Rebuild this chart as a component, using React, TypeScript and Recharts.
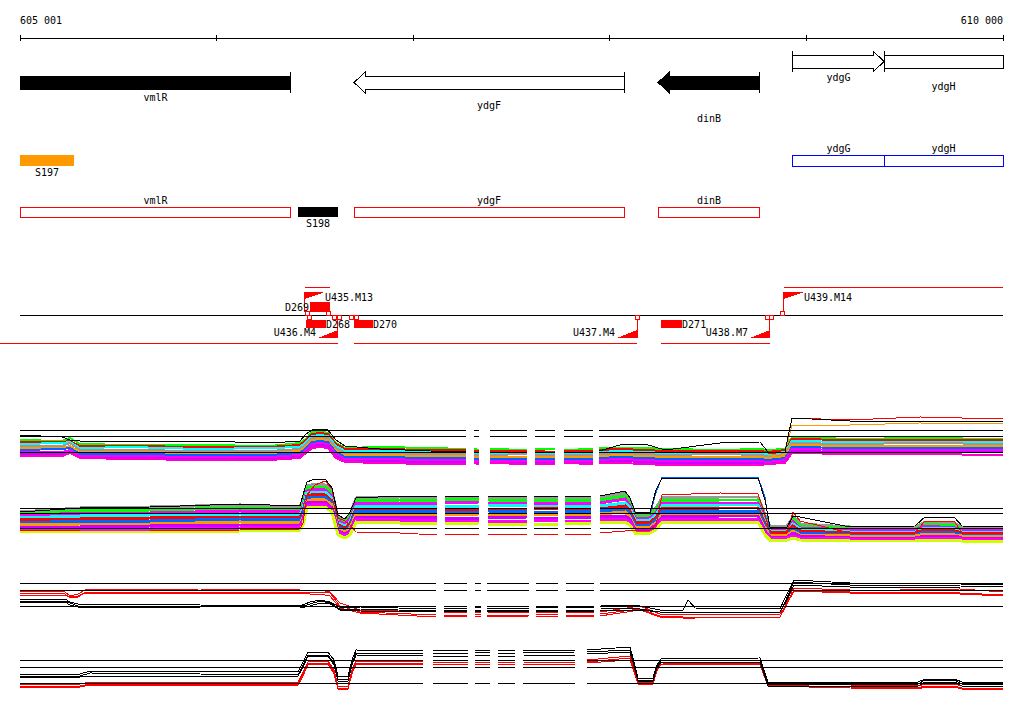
import React from 'react';
import {
  ComposedChart,
  Line,
  XAxis,
  YAxis,
  ReferenceArea,
  ReferenceLine,
  ReferenceDot,
} from 'recharts';

const START = 605001;
const END = 610000;
const W = 1024;
const MARGIN = { top: 0, right: 21, bottom: 0, left: 20 };
const FONT = '"DejaVu Sans Mono", "Liberation Mono", monospace';
const RED = '#ff0000';
const N = null;

// ---- ruler ----
const rulerTicks = [605001, 606001, 607001, 608001, 609001, 610000];

// ---- genes ----
const genes = [
  { name: 'vmlR', start: 605001, end: 606379, strand: -1 },
  { name: 'ydgF', start: 606700, end: 608073, strand: -1 },
  { name: 'dinB', start: 608246, end: 608764, strand: -1 },
  { name: 'ydgG', start: 608932, end: 609395, strand: 1 },
  { name: 'ydgH', start: 609395, end: 610000, strand: 1 },
];
const solidGenes = ['vmlR', 'dinB'];
const geneLabelDy: Record<string, number> = { vmlR: 15, ydgF: 23, dinB: 36, ydgG: 15.5, ydgH: 24.5 };

// ---- transcribed segments ----
const segments = [
  { name: 'S197', start: 605001, end: 605276, strand: 1 },
  { name: 'S198', start: 606415, end: 606618, strand: -1 },
];
const segmentColor: Record<string, string> = { S197: '#ff9900', S198: '#000000' };

// ---- up / down shifts ----
const upShifts = [
  { name: 'U435.M13', start: 606450, end: 606578 },
  { name: 'U439.M14', start: 608886, end: 610000 },
];
const downShifts = [
  { name: 'U436.M4', start: 604899, end: 606618 },
  { name: 'U437.M4', start: 606700, end: 608139 },
  { name: 'U438.M7', start: 608261, end: 608815 },
];
const dips = [
  { name: 'D269', start: 606476, end: 606578, side: 'up' },
  { name: 'D268', start: 606455, end: 606557, side: 'down' },
  { name: 'D270', start: 606700, end: 606796, side: 'down' },
  { name: 'D271', start: 608261, end: 608368, side: 'down' },
];
const breakpoints = [
  { pos: 606463, side: 'up' },
  { pos: 606572, side: 'up' },
  { pos: 606473, side: 'down' },
  { pos: 606600, side: 'down' },
  { pos: 606626, side: 'down' },
  { pos: 606689, side: 'down' },
  { pos: 606710, side: 'down' },
  { pos: 608139, side: 'down' },
  { pos: 608800, side: 'down' },
  { pos: 608823, side: 'down' },
  { pos: 608879, side: 'up' },
];

// ---- signal panel 1 ----
const p1Pos = [605001, 605215, 605255, 605306, 605560, 605916, 606272, 606425, 606455, 606486, 606527, 606567, 606608, 606654, 606832, 607086, 607269, 607289, 607310, 607335, 607366, 607391, 607579, 607600, 607620, 607722, 607747, 607767, 607915, 607930, 607946, 608052, 608179, 608281, 608561, 608764, 608805, 608891, 608927, 609222, 609578, 610000];
const p1Band = [
  [30,29,32,26,25,25,24,27,31,38,39,37,27,22,23,22,21,N,21,20,N,21,20,N,21,21,N,20,21,N,22,22,22,21,20,21,20,21,33,31,32,31],
  [28,28,29,24,24,23,23,25,30,36,37,36,26,21,21,20,20,N,19,19,N,19,19,N,19,18,N,19,19,N,20,21,20,19,19,19,18,20,31,30,30,30],
  [26,27,28,22,23,21,22,23,28,34,35,34,24,19,19,18,18,N,17,17,N,17,17,N,17,17,N,17,16,N,18,19,18,17,17,17,16,18,29,28,28,28],
  [24,24,27,20,20,19,19,21,26,32,33,32,22,17,17,16,16,N,15,15,N,15,16,N,15,15,N,15,15,N,16,17,16,15,16,15,14,16,27,26,27,26],
  [22,22,24,18,18,17,17,19,24,30,31,30,20,15,15,14,14,N,13,13,N,13,13,N,13,13,N,13,13,N,14,15,14,13,13,13,12,14,25,24,24,24],
  [20,21,22,16,16,15,15,17,22,28,29,28,18,13,13,12,12,N,11,11,N,11,11,N,11,11,N,11,11,N,12,13,12,11,11,11,10,12,23,22,22,22],
  [18,18,20,14,14,13,13,15,20,26,27,26,16,11,11,10,10,N,9,9,N,9,9,N,9,9,N,9,9,N,10,11,10,9,9,9,8,10,21,20,20,20],
  [16,16,18,12,12,11,11,13,18,24,25,24,14,9,9,8,8,N,7,7,N,7,7,N,7,7,N,7,7,N,8,9,8,7,7,7,6,8,19,18,18,18],
  [14,14,17,12,11,10,10,12,17,22,23,22,12,8,7,6,6,N,7,6,N,7,6,N,6,6,N,7,6,N,7,7,6,5,5,5,6,7,17,16,16,15],
];
const p1BandColors = ['#00ff00', '#ff0000', '#00ffff', '#999999', '#ff9900', '#0066ff', '#ff00ff', '#cc00ff', '#ff00cc'];
const p1Black = [35,33,30,29,29,29,27,29,36,40,41,40,30,24,21,19,18,N,18,18,N,18,18,N,18,18,N,18,18,N,19,25,26,20,27,28,18,18,52,49,49,48];
const p1RedTop = [N,N,N,N,N,N,N,N,N,N,N,N,N,N,N,N,N,N,N,N,N,N,N,N,N,N,N,N,N,N,N,N,N,N,N,N,16,18,52,50,53,51];
const p1OrangeTop = [N,N,N,N,N,N,N,N,N,N,N,N,N,N,N,N,N,N,N,N,N,N,N,N,N,N,N,N,N,N,N,N,N,N,N,N,14,16,45,45,47,46];
const p1Refs = [40, 34, 18];

// ---- signal panel 2 ----
const p2Pos = [605001, 605306, 605662, 606120, 606425, 606440, 606460, 606501, 606552, 606588, 606618, 606654, 606679, 606710, 606933, 607121, 607142, 607162, 607335, 607361, 607381, 607579, 607600, 607615, 607737, 607757, 607772, 607905, 607930, 607950, 608078, 608103, 608129, 608205, 608235, 608266, 608561, 608754, 608790, 608815, 608902, 608932, 608968, 609222, 609552, 609603, 609755, 609792, 610000];
const p2Band = [
  [33,37,38,40,38,45,59,61,60,53,28,25,30,47,48,48,N,48,47,N,48,48,N,47,48,N,48,48,N,48,52,45,31,31,37,47,48,48,30,19,19,28,21,18,18,23,21,18,18],
  [31,34,35,37,35,42,57,58,58,51,26,23,28,44,45,45,N,46,45,N,45,44,N,45,45,N,44,45,N,45,49,42,29,29,35,44,45,45,28,17,17,26,19,16,16,21,19,16,16],
  [29,32,32,34,33,39,54,56,55,49,24,21,26,42,42,42,N,42,43,N,42,42,N,42,41,N,42,42,N,42,46,39,27,27,32,42,42,42,26,16,16,23,17,15,15,19,17,15,15],
  [27,29,30,31,30,37,52,53,53,46,22,19,23,39,39,39,N,39,39,N,40,39,N,39,39,N,39,38,N,39,42,37,25,25,30,39,40,40,23,14,14,21,16,13,13,17,16,13,13],
  [25,26,27,28,28,34,49,51,50,44,20,17,21,36,36,36,N,36,35,N,36,36,N,36,37,N,36,36,N,36,39,34,23,23,27,36,37,37,21,13,13,19,14,12,12,15,14,12,12],
  [22,24,24,26,25,31,47,48,48,42,18,15,19,34,34,33,N,33,33,N,34,33,N,33,33,N,33,34,N,34,36,31,20,20,25,34,34,34,19,11,11,16,12,10,10,13,12,10,10],
  [20,21,21,23,22,28,44,46,45,40,16,13,17,31,31,30,N,30,31,N,30,30,N,31,30,N,30,30,N,31,33,28,18,18,22,31,31,31,17,10,10,14,10,9,9,11,10,9,9],
  [18,18,19,20,20,26,42,43,43,37,14,11,14,28,28,27,N,27,27,N,27,28,N,27,27,N,28,27,N,28,29,26,16,16,20,28,29,29,14,8,8,12,9,7,7,9,9,7,7],
  [16,16,16,17,18,23,39,41,40,35,12,9,12,26,25,24,N,24,24,N,24,24,N,25,24,N,24,24,N,25,26,23,14,14,17,26,26,26,12,7,7,9,7,6,6,7,7,6,6],
  [14,13,13,14,15,20,37,38,38,33,10,7,10,23,22,21,N,21,22,N,21,21,N,21,21,N,21,22,N,22,23,20,12,12,15,23,23,23,10,5,5,7,5,4,4,5,5,4,4],
];
const p2BandColors = ['#999999', '#00ff00', '#ff00ff', '#00ffff', '#ff0000', '#0066ff', '#ff9900', '#cc00ff', '#ff00ff', '#ccff00'];
const p2Black = [33,37,38,41,39,50,63,66,66,57,30,26,33,47,49,49,N,49,49,N,49,49,N,49,49,N,49,49,N,49,54,47,33,32,55,67,67,67,45,18,18,29,28,18,19,28,27,19,18];
const p2Blue = [N,N,N,N,N,N,N,N,N,N,N,N,N,N,N,N,N,N,N,N,N,N,N,N,N,N,N,N,N,N,N,N,N,30,52,68,68,68,48,12,N,N,N,N,N,N,N,N,N];
const p2Red = [15,14,14,15,16,22,50,60,64,56,27,24,20,13,12,10,N,11,11,N,11,11,N,11,11,N,11,11,N,12,14,15,15,15,20,50,52,51,30,12,12,33,24,12,12,24,23,12,11];
const p2Refs = [37, 32, 17];

// ---- signal panel 3 ----
const p3Pos = [605001, 605230, 605255, 605296, 605332, 605916, 606425, 606476, 606527, 606578, 606628, 606730, 607117, 607137, 607157, 607274, 607295, 607315, 607345, 607361, 607376, 607590, 607605, 607625, 607737, 607757, 607778, 607920, 607935, 607950, 608154, 608256, 608373, 608398, 608434, 608866, 608896, 608937, 609222, 609476, 609781, 610000];
const p3Red = [
  [34,33,29,31,35,36,35,35,35,33,22,15,13,N,13,12,N,13,13,N,13,12,N,13,13,N,12,13,N,13,19,11,11,11,11,11,25,37,35,35,36,33],
  [32,31,27,28,33,33,33,33,33,32,19,13,10,N,10,10,N,10,11,N,10,10,N,11,10,N,10,10,N,11,16,9,8,8,8,8,21,35,33,33,32,30],
  [30,30,28,29,32,32,32,31,31,29,17,12,8,N,9,9,N,9,9,N,8,9,N,9,9,N,9,8,N,9,15,8,7,7,7,8,19,34,32,32,31,29],
];
const p3Black = [
  [26,26,23,21,21,20,19,23,25,23,18,18,16,N,17,17,N,17,18,N,17,17,N,18,17,N,17,18,N,20,19,15,15,25,17,16,29,45,42,41,41,40],
  [24,24,22,19,19,18,18,21,24,22,16,16,14,N,15,15,N,15,15,N,15,15,N,15,15,N,15,15,N,17,16,13,13,13,13,13,25,43,40,40,39,38],
  [23,23,20,18,18,17,17,19,22,21,15,14,13,N,14,14,N,14,14,N,14,14,N,14,14,N,14,14,N,15,15,13,13,13,13,13,23,40,38,38,37,37],
];
const p3Refs = [42, 35, 19];

// ---- signal panel 4 ----
const p4Pos = [605001, 605306, 605357, 605916, 606415, 606440, 606466, 606567, 606598, 606618, 606669, 606689, 606710, 607050, 607076, 607101, 607279, 607295, 607315, 607391, 607412, 607432, 607518, 607539, 607559, 607823, 607854, 607884, 608103, 608124, 608144, 608220, 608240, 608261, 608764, 608785, 608805, 609222, 609568, 609603, 609755, 609791, 610000];
const p4Black = [
  [21,21,24,24,23,33,43,43,35,19,19,35,45,44,N,45,44,N,45,45,N,45,45,N,45,45,N,45,48,33,17,17,30,36,37,25,13,13,13,16,16,13,12],
  [19,19,22,21,20,30,40,40,32,16,16,32,42,42,N,42,42,N,43,42,N,42,42,N,42,43,N,43,45,31,15,15,28,35,35,23,11,11,11,15,15,11,10],
  [18,18,19,19,19,28,39,39,30,14,14,30,40,39,N,39,39,N,39,40,N,39,39,N,40,39,N,41,43,29,14,14,27,33,33,21,9,9,9,13,13,9,8],
];
const p4Red = [
  [11,11,13,13,13,23,33,34,25,9,9,25,34,34,N,35,34,N,35,35,N,34,35,N,35,34,N,35,39,27,13,13,27,33,33,23,12,10,9,11,11,9,8],
  [9,9,11,11,11,21,32,32,23,7,7,23,32,32,N,33,32,N,33,33,N,32,33,N,33,32,N,33,37,25,11,11,25,32,31,21,10,8,7,9,9,7,6],
  [8,8,10,10,10,19,31,31,21,6,6,21,31,31,N,31,31,N,31,31,N,31,31,N,31,31,N,32,35,23,11,11,24,31,31,19,9,7,6,8,8,6,5],
];
const p4Refs = [35, 28, 12];

// ---- layout (track rows, in annotation px units) ----
const LANE_PLUS = 61.5;
const LANE_MINUS = 82.5;
const BODY_HALF = 6.5;
const ROW_PLUS: [number, number] = [155, 166];
const ROW_MINUS: [number, number] = [207, 217];
const BASE = 315;
const UP_TOP = 287;
const DOWN_BOTTOM = 343;

const fmtPos = (v: number) => String(v).replace(/(\d{3})(\d{3})$/, '$1 $2');

const Label = ({ x, y, anchor = 'middle', children }: any) => (
  <text x={x} y={y} textAnchor={anchor} dominantBaseline="central" fontFamily={FONT} fontSize={10} fill="#000">
    {children}
  </text>
);

const RulerTick = (props: any) => {
  const { x, y, payload } = props;
  const v = payload.value;
  const first = v === rulerTicks[0];
  const last = v === rulerTicks[rulerTicks.length - 1];
  return (
    <g>
      <line x1={x} x2={x} y1={y - 3} y2={y + 3} stroke="#000" />
      {(first || last) && (
        <text x={x} y={y - 14} textAnchor={first ? 'start' : 'end'} fontFamily={FONT} fontSize={10} fill="#000">
          {fmtPos(v)}
        </text>
      )}
    </g>
  );
};

const GeneGlyph = (props: any) => {
  const { x, y, width, height, gene } = props;
  const x0 = x;
  const x1 = x + width;
  const y0 = y;
  const y1 = y + height;
  const cy = y + height / 2;
  const head = 11;
  const flare = 4;
  const showHead = gene.strand < 0 ? gene.start > START : gene.end < END;
  let pts: number[][];
  if (!showHead) {
    pts = [[x0, y0], [x1, y0], [x1, y1], [x0, y1]];
  } else if (gene.strand < 0) {
    pts = [[x0, cy], [x0 + head, y0 - flare], [x0 + head, y0], [x1, y0], [x1, y1], [x0 + head, y1], [x0 + head, y1 + flare]];
  } else {
    pts = [[x0, y0], [x1 - head, y0], [x1 - head, y0 - flare], [x1, cy], [x1 - head, y1 + flare], [x1 - head, y1], [x0, y1]];
  }
  const tickX = gene.strand < 0 ? x1 : x0;
  const solid = solidGenes.includes(gene.name);
  return (
    <g>
      <polygon points={pts.map((p) => p.join(',')).join(' ')} fill={solid ? '#000' : '#fff'} stroke="#000" />
      <line x1={tickX} x2={tickX} y1={y0 - flare} y2={y1 + flare} stroke="#000" />
      <Label x={(x0 + x1) / 2} y={cy + geneLabelDy[gene.name]}>{gene.name}</Label>
    </g>
  );
};

const StrandBox = (props: any) => {
  const { x, y, width, height, name, stroke, fill, below } = props;
  return (
    <g>
      <rect x={x} y={y} width={width} height={height} fill={fill} stroke={stroke} />
      <Label x={x + width / 2} y={below ? y + height + 6.5 : y - 6.5}>{name}</Label>
    </g>
  );
};

const UpShiftGlyph = (props: any) => {
  const { x, y, width, name } = props;
  return (
    <g>
      <line x1={x} x2={x + width} y1={y} y2={y} stroke={RED} />
      <line x1={x} x2={x} y1={y + 5} y2={y + 25} stroke={RED} />
      <polygon points={`${x},${y + 5} ${x + 20},${y + 5} ${x},${y + 12}`} fill={RED} />
      <Label x={x + 20} y={y + 10.5} anchor="start">{name}</Label>
    </g>
  );
};

const DownShiftGlyph = (props: any) => {
  const { x, y, width, height, name } = props;
  const xe = x + width;
  const yb = y + height;
  return (
    <g>
      <line x1={x} x2={xe} y1={yb} y2={yb} stroke={RED} />
      <line x1={xe} x2={xe} y1={y + 1} y2={yb - 5} stroke={RED} />
      <polygon points={`${xe - 20},${yb - 5} ${xe},${yb - 5} ${xe},${yb - 13}`} fill={RED} />
      <Label x={xe - 22} y={yb - 11} anchor="end">{name}</Label>
    </g>
  );
};

const DipGlyph = (props: any) => {
  const { x, y, width, height, name, labelLeft } = props;
  return (
    <g>
      <rect x={x} y={y} width={width} height={height} fill={RED} />
      <Label x={labelLeft ? x - 1 : x + width} y={y + height / 2} anchor={labelLeft ? 'end' : 'start'}>
        {name}
      </Label>
    </g>
  );
};

const BreakSquare = (props: any) => {
  const { cx, cy } = props;
  return <rect x={cx - 2} y={cy - 2} width={4} height={4} fill="#fff" stroke={RED} />;
};

const RulerChart = () => (
  <ComposedChart width={W} height={60} margin={MARGIN} data={rulerTicks.map((pos) => ({ pos }))}>
    <XAxis
      type="number"
      dataKey="pos"
      domain={[START, END]}
      ticks={rulerTicks}
      interval={0}
      height={22}
      tickSize={0}
      tickMargin={0}
      axisLine={{ stroke: '#000' }}
      tickLine={false}
      tick={(p: any) => <RulerTick {...p} />}
    />
    <YAxis hide domain={[0, 1]} />
  </ComposedChart>
);

const AnnotationChart = () => (
  <ComposedChart width={W} height={350} margin={MARGIN} data={[{ pos: START }, { pos: END }]}>
    <XAxis type="number" dataKey="pos" domain={[START, END]} allowDataOverflow hide />
    <YAxis type="number" domain={[0, 350]} allowDataOverflow reversed hide />

    {genes.map((g) => {
      const lane = g.strand > 0 ? LANE_PLUS : LANE_MINUS;
      return (
        <ReferenceArea
          key={`gene-${g.name}`}
          x1={g.start}
          x2={g.end}
          y1={lane - BODY_HALF}
          y2={lane + BODY_HALF}
          ifOverflow="visible"
          shape={(p: any) => <GeneGlyph {...p} gene={g} />}
        />
      );
    })}

    {genes.map((g) => {
      const row = g.strand > 0 ? ROW_PLUS : ROW_MINUS;
      return (
        <ReferenceArea
          key={`box-${g.name}`}
          x1={g.start}
          x2={g.end}
          y1={row[0]}
          y2={row[1]}
          ifOverflow="visible"
          shape={(p: any) => (
            <StrandBox {...p} name={g.name} fill="#fff" stroke={g.strand > 0 ? '#0000ff' : RED} />
          )}
        />
      );
    })}

    {segments.map((s) => {
      const row = s.strand > 0 ? ROW_PLUS : ROW_MINUS;
      return (
        <ReferenceArea
          key={`seg-${s.name}`}
          x1={s.start}
          x2={s.end}
          y1={row[0]}
          y2={row[1]}
          ifOverflow="visible"
          shape={(p: any) => (
            <StrandBox {...p} name={s.name} fill={segmentColor[s.name]} stroke="none" below />
          )}
        />
      );
    })}

    <ReferenceLine y={BASE} stroke="#000" />

    {upShifts.map((u) => (
      <ReferenceArea
        key={u.name}
        x1={u.start}
        x2={u.end}
        y1={UP_TOP}
        y2={BASE}
        ifOverflow="visible"
        shape={(p: any) => <UpShiftGlyph {...p} name={u.name} />}
      />
    ))}
    {downShifts.map((d) => (
      <ReferenceArea
        key={d.name}
        x1={d.start}
        x2={d.end}
        y1={BASE}
        y2={DOWN_BOTTOM}
        ifOverflow="visible"
        shape={(p: any) => <DownShiftGlyph {...p} name={d.name} />}
      />
    ))}
    {dips.map((d) => (
      <ReferenceArea
        key={d.name}
        x1={d.start}
        x2={d.end}
        y1={d.side === 'up' ? 302 : 320}
        y2={d.side === 'up' ? 312 : 328}
        ifOverflow="visible"
        shape={(p: any) => <DipGlyph {...p} name={d.name} labelLeft={d.side === 'up'} />}
      />
    ))}
    {breakpoints.map((b, i) => (
      <ReferenceDot
        key={`bp-${i}`}
        x={b.pos}
        y={b.side === 'up' ? BASE - 1.5 : BASE + 2.5}
        r={2}
        ifOverflow="visible"
        shape={(p: any) => <BreakSquare {...p} />}
      />
    ))}
  </ComposedChart>
);

type Trace = { key: string; values: (number | null)[]; color: string; width: number };

const SignalPanel = ({
  top,
  height,
  pos,
  traces,
  refs,
}: {
  top: number;
  height: number;
  pos: number[];
  traces: Trace[];
  refs: number[];
}) => {
  const rows = pos.map((p, i) => {
    const row: Record<string, number | null> = { pos: p };
    traces.forEach((t) => {
      row[t.key] = t.values[i] ?? null;
    });
    const inGap = traces[0].values[i] == null;
    refs.forEach((r, j) => {
      row[`ref${j}`] = inGap ? null : r;
    });
    return row;
  });
  return (
    <div style={{ position: 'absolute', left: 0, top }}>
      <ComposedChart width={W} height={height} data={rows} margin={MARGIN}>
        <XAxis type="number" dataKey="pos" domain={[START, END]} allowDataOverflow hide />
        <YAxis type="number" domain={[0, height]} allowDataOverflow hide />
        {traces.map((t) => (
          <Line
            key={t.key}
            dataKey={t.key}
            type="linear"
            stroke={t.color}
            strokeWidth={t.width}
            dot={false}
            activeDot={false}
            connectNulls={false}
            isAnimationActive={false}
          />
        ))}
        {refs.map((_, j) => (
          <Line
            key={`ref${j}`}
            dataKey={`ref${j}`}
            type="linear"
            stroke="#000"
            strokeWidth={1}
            dot={false}
            activeDot={false}
            connectNulls={false}
            isAnimationActive={false}
          />
        ))}
      </ComposedChart>
    </div>
  );
};

const p1Traces: Trace[] = [
  ...p1Band.map((v, i) => ({ key: `b${i}`, values: v, color: p1BandColors[i], width: 2 })),
  { key: 'red', values: p1RedTop, color: RED, width: 1 },
  { key: 'orange', values: p1OrangeTop, color: '#ff9900', width: 1 },
  { key: 'black', values: p1Black, color: '#000', width: 1 },
];
const p2Traces: Trace[] = [
  ...p2Band.map((v, i) => ({ key: `b${i}`, values: v, color: p2BandColors[i], width: 3 })),
  { key: 'red', values: p2Red, color: RED, width: 1 },
  { key: 'blue', values: p2Blue, color: '#0066ff', width: 1 },
  { key: 'black', values: p2Black, color: '#000', width: 1 },
];
const p3Traces: Trace[] = [
  ...p3Red.map((v, i) => ({ key: `r${i}`, values: v, color: RED, width: 1 })),
  ...p3Black.map((v, i) => ({ key: `k${i}`, values: v, color: '#000', width: 1 })),
];
const p4Traces: Trace[] = [
  ...p4Red.map((v, i) => ({ key: `r${i}`, values: v, color: RED, width: 1 })),
  ...p4Black.map((v, i) => ({ key: `k${i}`, values: v, color: '#000', width: 1 })),
];

export default function App() {
  return (
    <div style={{ position: 'relative', width: W, height: 714, background: '#fff', overflow: 'hidden' }}>
      <style>{'body{margin:0}.recharts-surface{shape-rendering:crispEdges}'}</style>
      <div style={{ position: 'absolute', left: 0, top: 0 }}>
        <RulerChart />
      </div>
      <div style={{ position: 'absolute', left: 0, top: 0 }}>
        <AnnotationChart />
      </div>
      <SignalPanel top={410} height={60} pos={p1Pos} traces={p1Traces} refs={p1Refs} />
      <SignalPanel top={470} height={75} pos={p2Pos} traces={p2Traces} refs={p2Refs} />
      <SignalPanel top={575} height={50} pos={p3Pos} traces={p3Traces} refs={p3Refs} />
      <SignalPanel top={640} height={55} pos={p4Pos} traces={p4Traces} refs={p4Refs} />
    </div>
  );
}
